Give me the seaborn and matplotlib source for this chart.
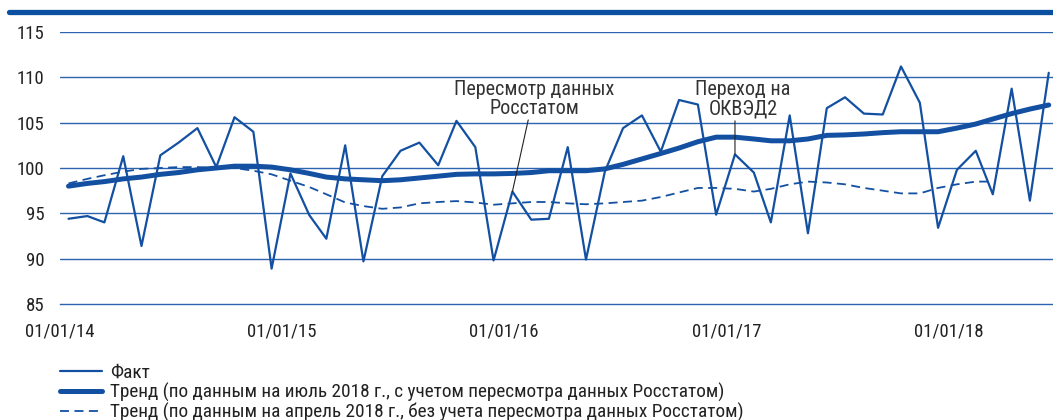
import pandas as pd
import seaborn as sns
import matplotlib.pyplot as plt
import matplotlib.dates as mdates
from matplotlib.lines import Line2D

# Monthly index values, Jan 2014 - Jun 2018 (plotted at mid-month)
months = pd.date_range('2014-01-01', periods=54, freq='MS') + pd.Timedelta(days=14)

fact = [94.4, 94.7, 94.0, 101.3, 91.4, 101.4, 102.8, 104.4, 100.1, 105.6, 104.0, 88.9,
        99.4, 94.8, 92.2, 102.5, 89.7, 99.1, 101.9, 102.8, 100.3, 105.2, 102.3, 89.8,
        97.4, 94.3, 94.4, 102.3, 89.9, 99.6, 104.4, 105.8, 101.8, 107.5, 107.0, 94.85,
        101.5, 99.5, 94.0, 105.8, 92.8, 106.6, 107.8, 106.0, 105.9, 111.2, 107.2, 93.4,
        99.8, 101.9, 97.1, 108.75, 96.4, 110.5]

trend_jul = [98.0, 98.3, 98.5, 98.8, 99.0, 99.3, 99.5, 99.8, 100.0, 100.2, 100.2, 100.1,
             99.8, 99.4, 99.0, 98.8, 98.7, 98.6, 98.7, 98.9, 99.1, 99.3, 99.35, 99.35,
             99.4, 99.5, 99.7, 99.7, 99.7, 99.9, 100.4, 101.0, 101.6, 102.2, 102.9, 103.4,
             103.4, 103.2, 103.0, 103.0, 103.2, 103.6, 103.65, 103.75, 103.9, 104.0, 104.0, 104.0,
             104.4, 104.85, 105.4, 106.0, 106.5, 106.95]

trend_apr = [98.3, 98.8, 99.2, 99.6, 99.9, 100.0, 100.1, 100.1, 100.0, 100.0, 99.7, 99.3,
             98.6, 97.9, 97.1, 96.2, 95.8, 95.5, 95.65, 96.1, 96.25, 96.35, 96.2, 95.95,
             96.1, 96.25, 96.25, 96.1, 96.0, 96.1, 96.25, 96.4, 96.8, 97.3, 97.8, 97.8,
             97.7, 97.4, 97.7, 98.2, 98.5, 98.4, 98.2, 97.8, 97.5, 97.2, 97.2, 97.8,
             98.2, 98.5, 98.5]

labels = ['Факт',
          'Тренд (по данным на июль 2018 г., с учетом пересмотра данных Росстатом)',
          'Тренд (по данным на апрель 2018 г., без учета пересмотра данных Росстатом)']

blue = '#1350a2'
sns.set_style('white')
plt.rcParams['font.family'] = ['Roboto Condensed', 'Liberation Sans Narrow', 'Roboto', 'DejaVu Sans']

fig = plt.figure(figsize=(10.53, 4.2), dpi=100)
ax = fig.add_axes([60 / 1053, 1 - 304 / 420, 1 - 60 / 1053, 272 / 420])

sns.lineplot(x=months, y=fact, ax=ax, color=blue, linewidth=1.6, label=labels[0])
sns.lineplot(x=months, y=trend_jul, ax=ax, color=blue, linewidth=3.6, label=labels[1])
sns.lineplot(x=months[:len(trend_apr)], y=trend_apr, ax=ax, color=blue, linewidth=1.3,
             linestyle=(0, (5, 3)), label=labels[2])

ax.set_ylim(85, 115)
ax.set_xlim(pd.Timestamp('2014-01-01'), pd.Timestamp('2018-06-22'))
ax.set_yticks(range(85, 116, 5))
for v in range(90, 116, 5):
    ax.axhline(v, color='#2c64b2', linewidth=1.0, zorder=0)
for s in ['top', 'right', 'left']:
    ax.spines[s].set_visible(False)
ax.spines['bottom'].set_color('#2c64b2')
ax.spines['bottom'].set_linewidth(1.0)

ax.xaxis.set_major_locator(mdates.YearLocator())
ax.xaxis.set_major_formatter(mdates.DateFormatter('%d/%m/%y'))
ax.tick_params(axis='x', length=5, width=1, color='#2c64b2', labelsize=13.5,
               labelcolor='#222222', pad=8, direction='out')
ax.tick_params(axis='y', length=0, labelsize=13.5, labelcolor='#222222', pad=11)
ax.set_xlabel('')
ax.set_ylabel('')

# annotations
ax.text(pd.Timestamp('2016-02-20'), 107.6, 'Пересмотр данных\nРосстатом', ha='center',
        va='center', fontsize=14.5, color='#333333', linespacing=1.0)
ax.annotate('', xy=(months[24], fact[24]), xytext=(pd.Timestamp('2016-02-10'), 105.3),
            arrowprops=dict(arrowstyle='-', color='#222222', linewidth=0.8,
                            shrinkA=0, shrinkB=0))
ax.text(pd.Timestamp('2017-01-28'), 107.6, 'Переход на\nОКВЭД2', ha='center',
        va='center', fontsize=14.5, color='#333333', linespacing=1.0)
ax.annotate('', xy=(months[36], fact[36]), xytext=(months[36], 105.2),
            arrowprops=dict(arrowstyle='-', color='#222222', linewidth=0.8,
                            shrinkA=0, shrinkB=0))

# legend below the plot
handles, _ = ax.get_legend_handles_labels()
ax.legend_.remove()
fig.legend(handles, labels, loc='upper left', bbox_to_anchor=(52 / 1053, 1 - 356 / 420),
           frameon=False, fontsize=13.9, handlelength=2.2, handletextpad=0.4,
           labelspacing=0.05, labelcolor='#222222', borderaxespad=0)

# dark bar at the top
fig.add_artist(Line2D([9 / 1053, 1], [1 - 12 / 420, 1 - 12 / 420], color='#0b4fa0',
                      linewidth=3.8, transform=fig.transFigure))

fig.savefig('out.png', dpi=100)
